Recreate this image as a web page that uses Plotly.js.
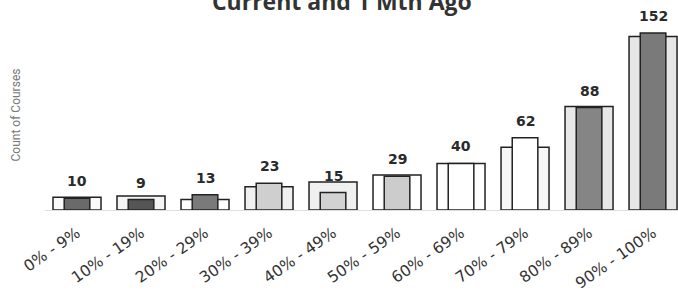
<!DOCTYPE html>
<html>
<head>
<meta charset="utf-8">
<script src="https://cdn.plot.ly/plotly-3.0.1.min.js"></script>
<style>html,body{margin:0;padding:0;background:#fff;}#chart{width:678px;height:295px;}</style>
</head>
<body>
<div id="chart"></div>
<script>
// ---- data ----
const categories = ["0% - 9%", "10% - 19%", "20% - 29%", "30% - 39%", "40% - 49%",
                    "50% - 59%", "60% - 69%", "70% - 79%", "80% - 89%", "90% - 100%"];
const currentCounts = [10, 9, 13, 23, 15, 29, 40, 62, 88, 152];
const monthAgoCounts = [11, 12, 9, 20, 24, 30, 40, 54, 89, 149];
const chartTitle = "Current and 1 Mth Ago";
const yTitle = "Count of Courses";

// ---- styles ----
const outerFill = ["#fafafa","#f4f4f4","#ffffff","#f0f0f0","#f0f0f0","#ffffff","#ffffff","#f6f6f6","#e8e8e8","#e6e6e6"];
const innerFill = ["#6a6a6a","#555555","#7a7a7a","#cfcfcf","#d2d2d2","#cccccc","#ffffff","#ffffff","#858585","#7a7a7a"];

const outer = {
  type: "bar", x: categories, y: monthAgoCounts, width: 0.75,
  marker: {color: outerFill, line: {color: "#222", width: 1.5}},
  hoverinfo: "skip", showlegend: false
};
const inner = {
  type: "bar", x: categories, y: currentCounts, width: 0.4,
  marker: {color: innerFill, line: {color: "#222", width: 1.5}},
  hoverinfo: "skip", showlegend: false
};

const annotations = categories.map((c, i) => ({
  x: c, y: currentCounts[i], xref: "x", yref: "y",
  text: "<b>" + currentCounts[i] + "</b>", showarrow: false,
  yanchor: "bottom", yshift: 7,
  font: {family: "DejaVu Sans, sans-serif", size: 14, color: "#2a2a2a"}
}));

const layout = {
  width: 678, height: 295,
  margin: {l: 45, r: 0, t: 20, b: 85},
  paper_bgcolor: "#fff", plot_bgcolor: "#fff",
  barmode: "overlay", bargap: 0,
  title: {
    text: "<b>" + chartTitle + "</b>", xref: "paper", x: 0.469, xanchor: "center",
    yref: "container", y: 0.993, yanchor: "middle",
    font: {family: "Open Sans, sans-serif", size: 23, color: "#333"}
  },
  xaxis: {
    type: "category", range: [-0.5, 9.39], tickangle: -35,
    showline: true, linecolor: "#dddddd", linewidth: 1,
    ticks: "", showgrid: false, ticklabelstandoff: 7,
    tickfont: {family: "DejaVu Sans, sans-serif", size: 15.5, weight: "normal", color: "#333"}
  },
  yaxis: {
    range: [0, 163.2], showticklabels: false, showgrid: false, zeroline: false, ticks: "",
    title: {text: yTitle, standoff: 20, font: {family: "Roboto, sans-serif", size: 12, color: "#777"}}
  },
  annotations: annotations
};

Plotly.newPlot("chart", [outer, inner], layout, {staticPlot: true, displayModeBar: false});
</script>
</body>
</html>
